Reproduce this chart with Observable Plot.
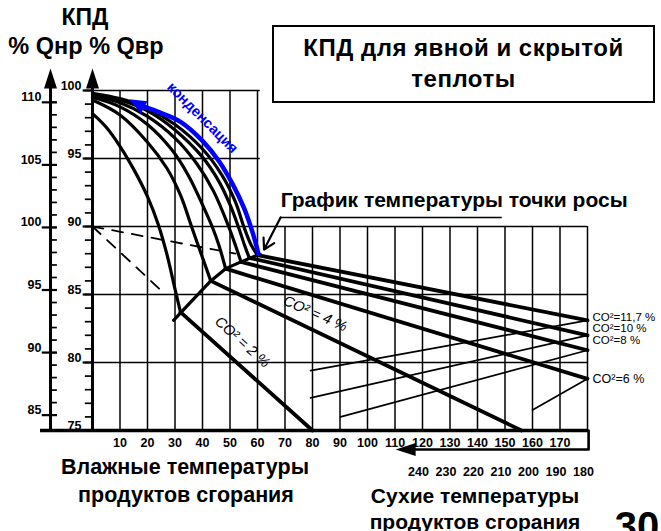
<!DOCTYPE html>
<html><head><meta charset="utf-8">
<script src="https://cdn.jsdelivr.net/npm/d3@7"></script>
<script src="https://cdn.jsdelivr.net/npm/@observablehq/plot@0.6"></script>
<style>
body{margin:0;background:#fff;}
#wrap{position:relative;width:661px;height:531px;overflow:hidden;font-family:"Liberation Sans",Arial,sans-serif;}
.t{position:absolute;font-weight:bold;color:#000;white-space:nowrap;line-height:1;transform:translateX(-50%);}
#box{position:absolute;left:272px;top:25px;width:379px;height:69px;border:2px solid #000;background:#fff;text-align:center;font-weight:bold;font-size:24px;letter-spacing:0.5px;line-height:31px;padding-top:5px;box-sizing:content-box;}
</style></head><body><div id="wrap"></div>
<script>
// ---- data (x = wet flue-gas temperature °C, y = efficiency % Qвр) ----
const co2Levels = ["2%", "4%", "6%", "8%", "10%", "11,7%"];
const wet2   = [[0,98.3],[5,97.3],[10,95.9],[15,94.2],[20,92.2],[24,90.1],[27,88],[30,85.4],[32,83.7]];
const wet4   = [[0,99.3],[10,98.2],[20,96.2],[27,94.3],[32,92.3],[36,90],[39.5,88],[43,86]];
const wet6   = [[0,99.5],[10,98.8],[20,97.5],[29,95.6],[35,93.7],[40,91.6],[43.5,90],[46,88.6],[48.4,86.9]];
const wet8   = [[0,99.6],[10,99.1],[20,98.1],[30,96.5],[38,94.6],[44,92.6],[49.5,90],[52,88.6],[54,87.4]];
const wet10  = [[0,99.7],[10,99.3],[20,98.5],[30,97.1],[40,95.1],[46,93.3],[50,91.6],[53,90],[55.5,88.5],[57,87.7]];
const wet117 = [[0,99.8],[10,99.4],[20,98.7],[30,97.5],[40,95.7],[47,93.8],[52,91.8],[55,90],[57.8,88.6],[60,87.9]];
const dry2   = [[32,83.7],[80,75]];
const dry4   = [[43,86],[156,75]];
const dry6   = [[48.4,86.9],[180,78.8]];
const dry8   = [[54,87.4],[180,80.9]];
const dry10  = [[57,87.7],[180,82.0]];
const dry117 = [[60,87.9],[180,83.1]];
const dewPoint = [[29.5,83.1],[32.7,83.8],[43,86],[48.4,86.9],[54,87.4],[60,87.9],[61,87.95]];
const condensation = [[17.5,98.9],[23.6,98.45],[32,97.7],[40,96.3],[46,94.8],[51,93.1],[55,91.4],[58,89.7],[59.7,88.5],[60.3,88.0]];
const guide1 = [[79.3,79.4],[180,83.1]];
const guide2 = [[79.3,77.4],[180,82.0]];
const guide3 = [[90.2,76.0],[180,80.9]];
const guide4 = [[160,76.5],[180,78.8]];
const dashA = [[0,90],[52,88]];
const dashB = [[0,90],[26,85.1]];
const wetTickLabels = [10,20,30,40,50,60,70,80,90,100,110,120,130,140,150,160,170];
const dryTickLabels = [240,230,220,210,200,190,180];
const innerTickLabels = [75,80,85,90,95,100];
const outerTickLabels = [85,90,95,100,105,110];

// ---- build tables ----
const toRows = (series, names) => series.flatMap((s, i) => s.map(([x, y]) => ({id: names[i], x, y})));
const wetRows = toRows([wet2, wet4, wet6, wet8, wet10, wet117], co2Levels);
const dryRows = toRows([dry2, dry4, dry6, dry8, dry10, dry117], co2Levels);
const guideRows = toRows([guide1, guide2, guide3, guide4], ["g1","g2","g3","g4"]);
const dashRows = toRows([dashA, dashB], ["a","b"]);
const pt = ([x, y]) => ({x, y});

// outer (% Qнр) axis mapped onto the % Qвр scale
const qnr = q => 89.93 + (q - 100) * 0.92;
const OUTER_X = -15.27;
const TOP = 100.15;
const bold = "bold";
const sans = "'Liberation Sans',Arial,sans-serif";

const axisHead = {draw(c){ c.moveTo(0,-20); c.lineTo(6.5,0); c.lineTo(-6.5,0); c.closePath(); }};
const blueHead = {draw(c){ c.moveTo(0,-13); c.lineTo(7,4); c.lineTo(-7,4); c.closePath(); }};

const chart = Plot.plot({
  width: 661, height: 531,
  marginLeft: 92, marginRight: 74, marginTop: 90, marginBottom: 101,
  x: {domain: [0, 180], axis: null},
  y: {domain: [75, 100], axis: null},
  style: {background: "transparent", fontFamily: sans, color: "#000"},
  marks: [
    // grid
    Plot.ruleX(wetTickLabels.filter(d => d <= 60), {y1: 75, y2: 100, strokeWidth: 1.5}),
    Plot.ruleX(wetTickLabels.filter(d => d > 60).concat([180]), {y1: 75, y2: 90, strokeWidth: 1.5}),
    Plot.ruleY([95, 100], {x1: 0, x2: 61, strokeWidth: 1.5}),
    Plot.ruleY([80, 85, 90], {x1: 0, x2: 180, strokeWidth: 1.5}),
    // dashed guides
    Plot.line(dashRows, {x: "x", y: "y", z: "id", strokeWidth: 1.8, strokeDasharray: "11,9"}),
    // thin conversion lines
    Plot.line(guideRows, {x: "x", y: "y", z: "id", strokeWidth: 1.7}),
    // dry lines
    Plot.line(dryRows, {x: "x", y: "y", z: "id", strokeWidth: 3.8}),
    // wet (condensing) curves
    Plot.line(wetRows, {x: "x", y: "y", z: "id", curve: "catmull-rom", strokeWidth: 3.2}),
    // dew point line
    Plot.line(dewPoint.map(pt), {x: "x", y: "y", strokeWidth: 3.2}),
    // condensation arrow
    Plot.line(condensation.map(pt), {x: "x", y: "y", curve: "catmull-rom", stroke: "#0000ff", strokeWidth: 4.5}),
    Plot.dot([condensation[0]].map(pt), {x: "x", y: "y", symbol: blueHead, fill: "#0000ff", stroke: "none", rotate: -62}),
    Plot.text(["конденсация"], {x: 40, y: 98.0, rotate: 45, fill: "#0000ff", fontWeight: bold, fontSize: 14.5}),
    // inner axis (% Qвр)
    Plot.ruleX([0], {y1: 75, y2: TOP, strokeWidth: 3}),
    Plot.dot([{x: 0, y: TOP}], {x: "x", y: "y", symbol: axisHead, fill: "black", stroke: "none"}),
    Plot.ruleY(d3.range(75, 101), {x1: -2.6, x2: 0, strokeWidth: 1.7}),
    Plot.ruleY(innerTickLabels, {x1: -3.4, x2: 0, strokeWidth: 2.2}),
    Plot.text(innerTickLabels, {x: 0, y: d => d, text: d => String(d), textAnchor: "end", dx: -11, dy: -5, fontSize: 12.5, fontWeight: bold}),
    // outer axis (% Qнр)
    Plot.ruleX([OUTER_X], {y1: 75, y2: TOP, strokeWidth: 3}),
    Plot.dot([{x: OUTER_X, y: TOP}], {x: "x", y: "y", symbol: axisHead, fill: "black", stroke: "none"}),
    Plot.ruleY(d3.range(85, 111), {y: qnr, x1: OUTER_X, x2: OUTER_X + 2.5, strokeWidth: 1.7}),
    Plot.ruleY(outerTickLabels, {y: qnr, x1: OUTER_X - 3, x2: OUTER_X + 2.5, strokeWidth: 2.2}),
    Plot.text(outerTickLabels, {x: OUTER_X, y: qnr, text: d => String(d), textAnchor: "end", dx: -9, dy: -5, fontSize: 12.5, fontWeight: bold}),
    // bottom axis
    Plot.ruleY([75], {x1: -18.9, x2: 180.4, strokeWidth: 3.4}),
    Plot.text(wetTickLabels, {x: d => d, y: 75, text: d => String(d), dy: 12, fontSize: 12.5, fontWeight: bold}),
    // dry temperature scale with arrow
    Plot.line([[180.4, 75], [180.4, 73.6], [117.5, 73.6]].map(pt), {x: "x", y: "y", strokeWidth: 2.6}),
    Plot.dot([{x: 117.5, y: 73.6}], {x: "x", y: "y", symbol: axisHead, fill: "black", stroke: "none", rotate: -90}),
    Plot.text(dryTickLabels, {x: d => 360 - d, y: 75, text: d => String(d), dy: 41, dx: -4, fontSize: 12.5, fontWeight: bold}),
    // dew point annotation
    Plot.text(["График температуры точки росы"], {x: 131.5, y: 91.9, fontSize: 21, fontWeight: bold}),
    Plot.ruleY([90.66], {x1: 68.4, x2: 149, strokeWidth: 1.5}),
    Plot.arrow([{x1: 68.4, y1: 90.66, x2: 62.4, y2: 88.3}], {x1: "x1", y1: "y1", x2: "x2", y2: "y2", strokeWidth: 2.2, headLength: 10}),
    // CO2 labels
    Plot.text(["CO² = 2 %"], {x: 54.5, y: 81.5, rotate: 42, fontStyle: "italic", fontSize: 14.5}),
    Plot.text(["CO² = 4 %"], {x: 81, y: 83.6, rotate: 24, fontStyle: "italic", fontSize: 14.5}),
    Plot.text(["CO²=11,7 %"], {x: 180, y: dry117[1][1], dx: 5, dy: -3, textAnchor: "start", fontSize: 11.5}),
    Plot.text(["CO²=10 %"], {x: 180, y: dry10[1][1], dx: 5, dy: -6.5, textAnchor: "start", fontSize: 11.5}),
    Plot.text(["CO²=8 %"], {x: 180, y: dry8[1][1], dx: 5, dy: -10, textAnchor: "start", fontSize: 11.5}),
    Plot.text(["CO²=6 %"], {x: 180, y: dry6[1][1], dx: 5, dy: 0, textAnchor: "start", fontSize: 12.5})
  ]
});

const wrap = document.getElementById("wrap");
wrap.appendChild(chart);
const add = (html, cx, cy, size) => {
  const d = document.createElement("div"); d.className = "t"; d.innerHTML = html;
  Object.assign(d.style, {left: cx + "px", top: (cy - size / 2) + "px", fontSize: size + "px"});
  wrap.appendChild(d);
};
add("КПД", 85, 17, 23);
add("% Qнр % Qвр", 86, 47, 23.5);
const box = document.createElement("div"); box.id = "box"; box.innerHTML = "КПД для явной и скрытой<br>теплоты"; wrap.appendChild(box);
add("Влажные температуры", 185, 468, 21.5);
add("продуктов сгорания", 186, 496, 21.5);
add("Сухие температуры", 475, 495, 21);
add("продуктов сгорания", 475, 521, 21);
add("30", 637, 526, 40);
</script></body></html>
